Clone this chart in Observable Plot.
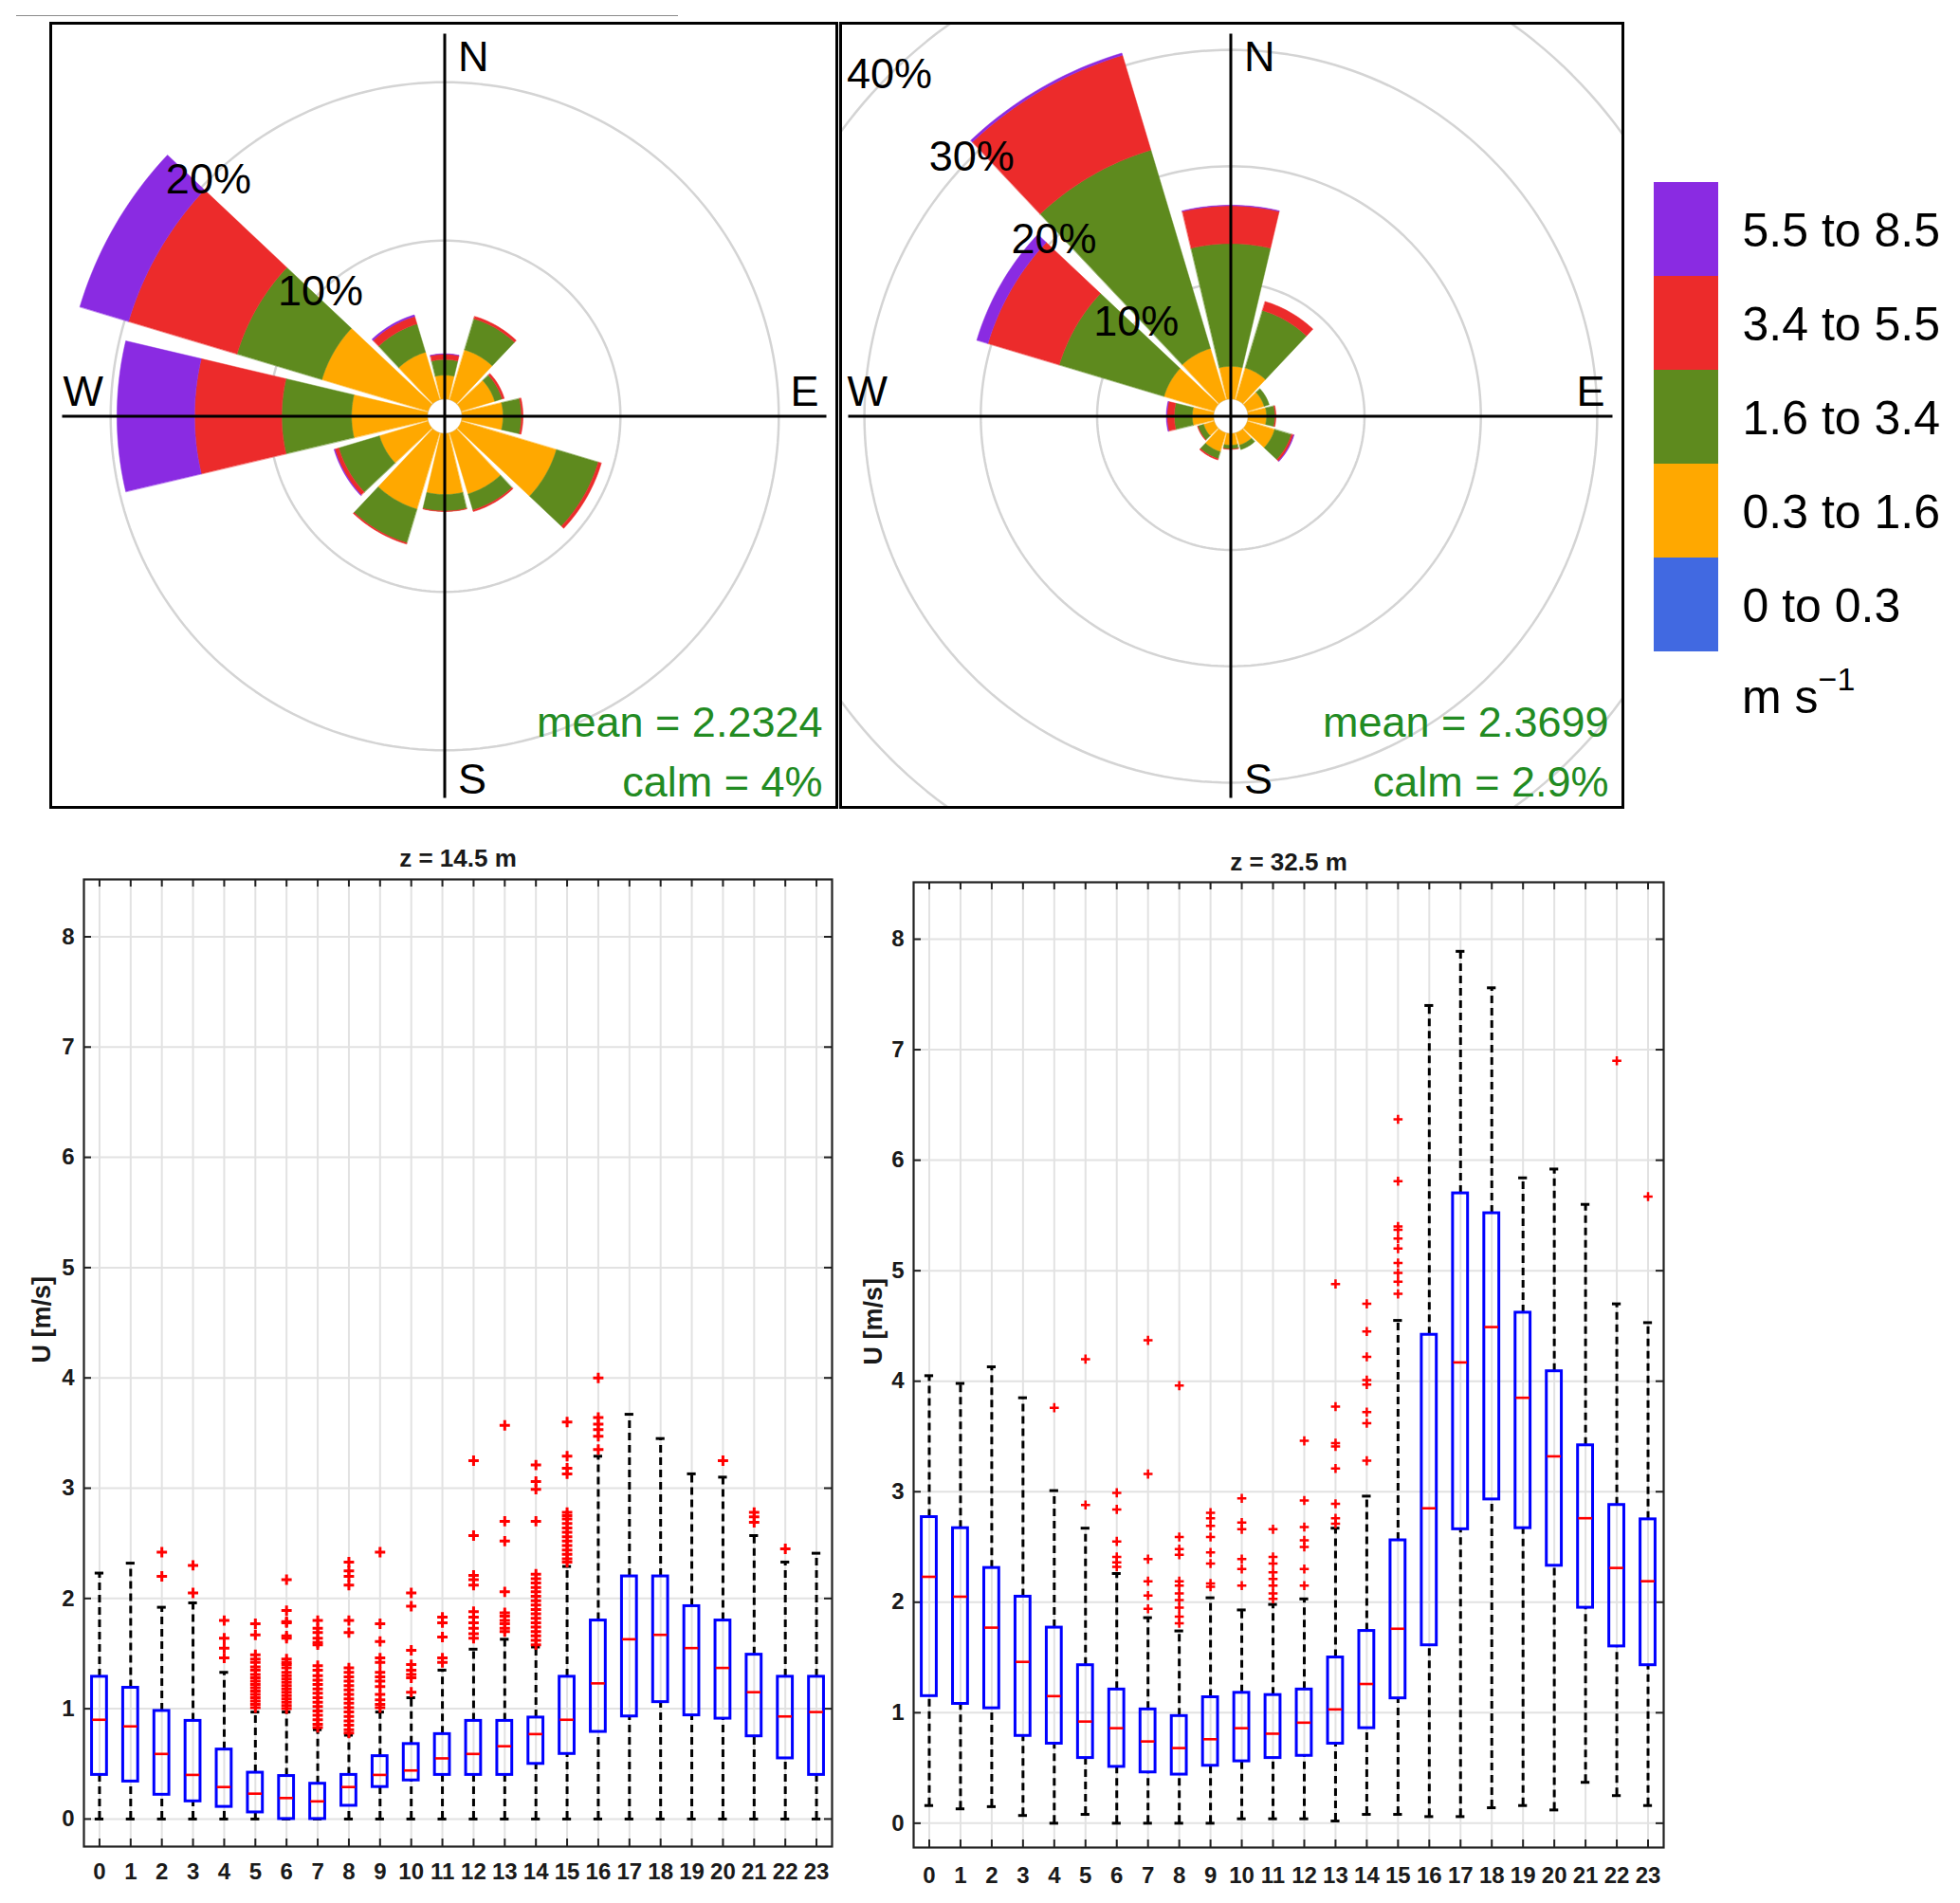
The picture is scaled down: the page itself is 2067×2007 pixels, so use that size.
<!DOCTYPE html>
<html><head><meta charset="utf-8">
<script src="https://cdn.jsdelivr.net/npm/d3@7"></script>
<script src="https://cdn.jsdelivr.net/npm/@observablehq/plot@0.6"></script>
<style>
body{margin:0;background:#fff;}
#page{position:relative;width:2067px;height:2007px;background:#fff;font-family:"Liberation Sans",Arial,Helvetica,sans-serif;overflow:hidden;}
.pan{position:absolute;}
.pan svg{overflow:visible;}
</style></head><body><div id="page"></div>
<script>
// ---------- wind-rose data (percent of time) ----------
const bins = ["0 to 0.3", "0.3 to 1.6", "1.6 to 3.4", "3.4 to 5.5", "5.5 to 8.5"];
const binColors = ["#4169e1", "#ffa800", "#5e8a1e", "#ec2b2b", "#8a2be2"];
const directions = [0, 30, 60, 90, 120, 150, 180, 210, 240, 270, 300, 330];
const ringsLeft = [10, 20];
const ringsRight = [10, 20, 30, 40];

const roseA_b0 = [0, 0, 0, 0, 0, 0, 0, 0, 0, 0, 0, 0];
const roseA_b1 = [1.50, 3.28, 2.20, 2.59, 6.27, 4.03, 3.85, 5.03, 3.21, 4.79, 7.00, 3.13];
const roseA_b2 = [0.99, 2.05, 0.49, 1.16, 2.76, 1.06, 1.04, 2.22, 2.68, 4.41, 5.60, 1.86];
const roseA_b3 = [0.34, 0.16, 0.14, 0.10, 0.20, 0.10, 0.03, 0.08, 0.26, 5.50, 7.15, 0.50];
const roseA_b4 = [0.02, 0, 0, 0, 0, 0, 0, 0, 0.05, 4.90, 3.21, 0.10];
const roseA_mean = "mean = 2.2324", roseA_calm = "calm = 4%";

const roseB_b0 = [0, 0, 0, 0, 0, 0, 0, 0, 0, 0, 0, 0];
const roseB_b1 = [2.80, 2.85, 1.50, 1.58, 2.45, 1.10, 1.00, 1.69, 0.95, 1.82, 4.50, 4.60];
const roseB_b2 = [10.55, 5.15, 0.45, 0.73, 1.49, 0.40, 0.33, 0.62, 0.50, 1.55, 9.40, 17.80];
const roseB_b3 = [3.25, 0.80, 0, 0.08, 0.19, 0, 0.03, 0.11, 0.05, 0.62, 6.40, 8.50];
const roseB_b4 = [0.05, 0, 0, 0, 0.05, 0, 0, 0, 0, 0.06, 1.00, 0.20];
const roseB_mean = "mean = 2.3699", roseB_calm = "calm = 2.9%";

// ---------- hourly box-plot data (m/s) ----------
const hours = [0,1,2,3,4,5,6,7,8,9,10,11,12,13,14,15,16,17,18,19,20,21,22,23];
const yTicks = [0,1,2,3,4,5,6,7,8];

const lowQ1  = [0.40,0.34,0.22,0.16,0.11,0.06,0.00,0.00,0.12,0.29,0.35,0.40,0.40,0.40,0.50,0.59,0.79,0.93,1.06,0.94,0.91,0.75,0.55,0.40];
const lowMed = [0.90,0.84,0.59,0.40,0.29,0.23,0.19,0.16,0.29,0.40,0.44,0.55,0.59,0.66,0.77,0.90,1.23,1.63,1.67,1.55,1.37,1.15,0.93,0.97];
const lowQ3  = [1.29,1.19,0.98,0.89,0.63,0.42,0.39,0.32,0.40,0.57,0.68,0.77,0.89,0.89,0.92,1.29,1.80,2.20,2.20,1.93,1.80,1.49,1.29,1.29];
const lowLo  = [0,0,0,0,0,0,0,0,0,0,0,0,0,0,0,0,0,0,0,0,0,0,0,0];
const lowHi  = [2.23,2.32,1.92,1.96,1.33,0.97,0.97,0.81,0.76,0.97,1.10,1.35,1.54,1.63,1.56,2.29,3.29,3.67,3.45,3.13,3.10,2.57,2.33,2.41];
const lowOut = [
  [], [], [2.42,2.20], [2.30,2.05], [1.80,1.64,1.55,1.46],
  [1.77,1.67,1.49,1.45,1.42,1.38,1.35,1.31,1.28,1.25,1.22,1.19,1.16,1.13,1.10,1.07,1.04,1.01],
  [2.17,1.89,1.79,1.78,1.66,1.64,1.45,1.42,1.40,1.37,1.33,1.30,1.27,1.24,1.21,1.18,1.15,1.12,1.09,1.06,1.03,1.00],
  [1.80,1.73,1.69,1.64,1.60,1.58,1.39,1.35,1.30,1.26,1.22,1.18,1.14,1.10,1.06,1.02,0.98,0.94,0.90,0.86,0.83],
  [2.33,2.25,2.20,2.12,1.80,1.69,1.37,1.33,1.29,1.25,1.21,1.17,1.13,1.09,1.05,1.01,0.97,0.93,0.89,0.85,0.81,0.78],
  [2.42,1.77,1.61,1.46,1.42,1.33,1.29,1.25,1.20,1.13,1.08,1.04,1.01],
  [2.05,1.93,1.53,1.40,1.35,1.31,1.28,1.15],
  [1.83,1.78,1.65,1.46,1.42],
  [3.25,2.57,2.21,2.17,2.12,1.88,1.83,1.78,1.73,1.68,1.64],
  [3.57,2.70,2.52,2.06,1.87,1.84,1.80,1.77,1.73,1.70],
  [3.21,3.06,2.99,2.70,2.22,2.18,2.14,2.10,2.06,2.02,1.98,1.94,1.90,1.86,1.82,1.78,1.74,1.70,1.66,1.62,1.58],
  [3.60,3.29,3.18,3.13,2.78,2.75,2.72,2.68,2.64,2.60,2.56,2.52,2.48,2.44,2.40,2.36,2.33],
  [4.00,3.64,3.58,3.53,3.47,3.35],
  [], [], [], [3.25], [2.78,2.74,2.69], [2.45], []
];

const highQ1  = [1.15,1.08,1.04,0.79,0.72,0.59,0.51,0.46,0.44,0.52,0.56,0.59,0.61,0.72,0.86,1.13,1.61,2.66,2.93,2.67,2.33,1.95,1.60,1.43];
const highMed = [2.23,2.05,1.77,1.46,1.15,0.92,0.86,0.74,0.68,0.76,0.86,0.81,0.91,1.03,1.26,1.76,2.85,4.17,4.49,3.85,3.32,2.76,2.31,2.19];
const highQ3  = [2.77,2.67,2.31,2.05,1.77,1.43,1.21,1.03,0.97,1.14,1.18,1.16,1.21,1.50,1.74,2.56,4.42,5.70,5.52,4.62,4.09,3.42,2.88,2.75];
const highLo  = [0.16,0.13,0.15,0.07,0,0.08,0,0,0,0,0.04,0.04,0.04,0.02,0.08,0.08,0.06,0.06,0.14,0.16,0.12,0.37,0.25,0.16];
const highHi  = [4.05,3.98,4.13,3.85,3.01,2.67,2.26,1.86,1.74,2.04,1.93,1.98,2.03,2.67,2.96,4.55,7.40,7.89,7.56,5.84,5.92,5.60,4.70,4.53];
const highOut = [
  [], [], [], [], [3.76], [4.20,2.88],
  [2.99,2.84,2.55,2.41,2.36,2.32],
  [4.37,3.16,2.39,2.19,2.06,1.94],
  [3.96,2.59,2.48,2.43,2.19,2.15,2.08,2.02,1.95,1.87,1.81],
  [2.81,2.76,2.69,2.59,2.45,2.35,2.17,2.14],
  [2.94,2.72,2.66,2.39,2.30,2.15],
  [2.66,2.41,2.35,2.27,2.21,2.15,2.08,2.03],
  [3.46,2.92,2.68,2.56,2.50,2.30,2.15],
  [4.88,3.77,3.44,3.41,3.21,2.89,2.76,2.71],
  [4.70,4.45,4.22,4.01,3.97,3.72,3.62,3.28],
  [6.37,5.81,5.40,5.37,5.29,5.20,5.07,4.98,4.90,4.79],
  [], [], [], [], [], [], [6.90], [5.67]
];

// ---------- helpers ----------
const FONT = '"Liberation Sans", Arial, Helvetica, sans-serif';
const page = document.getElementById("page");
function place(node, left, top) {
  const d = document.createElement("div");
  d.className = "pan";
  d.style.left = left + "px";
  d.style.top = top + "px";
  d.appendChild(node);
  page.appendChild(d);
}

const HALF = 13.3;   // half angular width of a paddle (deg)
const HOLE = 18.3;   // px radius of calm hole

function wedgeRows(binArrays, off) {
  const rows = [];
  directions.forEach((dir, i) => {
    let cum = 0;
    binArrays.forEach((arr, j) => {
      const v = arr[i];
      if (!(v > 0)) return;
      const r0 = off + cum, r1 = off + cum + v;
      cum += v;
      const id = dir + "-" + j;
      const a0 = (dir - HALF) * Math.PI / 180, a1 = (dir + HALF) * Math.PI / 180;
      const n = 20;
      for (let k = 0; k <= n; k++) { const a = a0 + (a1 - a0) * k / n; rows.push({id, bin: bins[j], x: r1 * Math.sin(a), y: r1 * Math.cos(a)}); }
      for (let k = n; k >= 0; k--) { const a = a0 + (a1 - a0) * k / n; rows.push({id, bin: bins[j], x: r0 * Math.sin(a), y: r0 * Math.cos(a)}); }
    });
  });
  return rows;
}
function circleRows(radii, off) {
  const rows = [];
  radii.forEach(r => {
    for (let k = 0; k < 240; k++) {
      const a = k / 240 * 2 * Math.PI;
      rows.push({ring: r, x: (off + r) * Math.sin(a), y: (off + r) * Math.cos(a)});
    }
  });
  return rows;
}

function rosePlot({binArrays, k, rings, width, height, cx, cy, wDx, mean, calm}) {
  const m = 3;
  const off = HOLE / k;
  const L = 403 / k;
  const lab = {fontSize: 45, fill: "black", lineAnchor: "middle", text: d => d};
  return Plot.plot({
    width, height, marginTop: m, marginBottom: m, marginLeft: m, marginRight: m,
    x: {domain: [-(cx - m) / k, (width - m - cx) / k], axis: null},
    y: {domain: [-(height - m - cy) / k, (cy - m) / k], axis: null},
    color: {domain: bins, range: binColors},
    style: {fontFamily: FONT, background: "transparent"},
    marks: [
      Plot.line(circleRows(rings, off), {x: "x", y: "y", z: "ring", stroke: "#d4d4d4", strokeWidth: 2.5, curve: "linear-closed", clip: true}),
      Plot.line(circleRows([0], off), {x: "x", y: "y", z: "ring", stroke: "#d0d0d0", strokeWidth: 1.2, curve: "linear-closed"}),
      Plot.line(wedgeRows(binArrays, off), {x: "x", y: "y", z: "id", fill: "bin", stroke: "bin", strokeWidth: 0.5, curve: "linear-closed"}),
      Plot.ruleX([0], {y1: -L, y2: L, stroke: "black", strokeWidth: 3}),
      Plot.ruleY([0], {x1: -L, x2: L, stroke: "black", strokeWidth: 3}),
      Plot.text(rings, {x: r => -(off + r) * Math.SQRT1_2, y: r => (off + r) * Math.SQRT1_2, ...lab, text: r => r + "%"}),
      Plot.text(["N"], {x: () => 0, frameAnchor: "top", dx: 14, dy: 36, textAnchor: "start", ...lab}),
      Plot.text(["S"], {x: () => 0, frameAnchor: "bottom", dx: 14, dy: -29, textAnchor: "start", ...lab}),
      Plot.text(["W"], {y: () => 0, frameAnchor: "left", dx: wDx, dy: -25, textAnchor: "start", ...lab}),
      Plot.text(["E"], {y: () => 0, frameAnchor: "right", dx: -19, dy: -25, textAnchor: "end", ...lab}),
      Plot.text([mean], {frameAnchor: "bottom-right", dx: -15, dy: -75, textAnchor: "end", lineAnchor: "bottom", text: d => d, fontSize: 45, fill: "#228b22"}),
      Plot.text([calm], {frameAnchor: "bottom-right", dx: -15, dy: -12, textAnchor: "end", lineAnchor: "bottom", text: d => d, fontSize: 45, fill: "#228b22"}),
      Plot.frame({stroke: "black", strokeWidth: 3})
    ]
  });
}

function boxPlot({title, q1, med, q3, lo, hi, out, width, height, ml, mr, mt, mb, ydom, xdy, ydx, titleDy, labelDx, plusR, plusW}) {
  const rows = hours.map((h, i) => ({h, q1: q1[i], med: med[i], q3: q3[i], lo: lo[i], hi: hi[i]}));
  const outs = hours.flatMap((h, i) => out[i].map(v => ({h, v})));
  const pxX = (width - ml - mr) / 24;
  const pxY = (height - mt - mb) / (ydom[1] - ydom[0]);
  const tx = 8 / pxX, ty = 8 / pxY;
  const frameC = "#222222";
  const txt = {fontSize: 24, fontWeight: "bold", fill: "#1a1a1a", lineAnchor: "middle"};
  return Plot.plot({
    width, height, marginLeft: ml, marginRight: mr, marginTop: mt, marginBottom: mb,
    x: {domain: [-0.5, 23.5], axis: null},
    y: {domain: ydom, axis: null},
    style: {fontFamily: FONT, background: "transparent"},
    marks: [
      Plot.ruleX(hours, {x: d => d, stroke: "#e2e2e2", strokeWidth: 2}),
      Plot.ruleY(yTicks, {y: d => d, stroke: "#e2e2e2", strokeWidth: 2}),
      Plot.ruleX(hours, {x: d => d, y1: ydom[1], y2: ydom[1] - ty, stroke: frameC, strokeWidth: 2}),
      Plot.ruleX(hours, {x: d => d, y1: ydom[0], y2: ydom[0] + ty, stroke: frameC, strokeWidth: 2}),
      Plot.ruleY(yTicks, {y: d => d, x1: -0.5, x2: -0.5 + tx, stroke: frameC, strokeWidth: 2}),
      Plot.ruleY(yTicks, {y: d => d, x1: 23.5, x2: 23.5 - tx, stroke: frameC, strokeWidth: 2}),
      Plot.frame({stroke: frameC, strokeWidth: 2.2}),
      Plot.ruleX(rows, {x: "h", y1: "q3", y2: "hi", stroke: "black", strokeWidth: 3, strokeDasharray: "8,5"}),
      Plot.ruleX(rows, {x: "h", y1: "lo", y2: "q1", stroke: "black", strokeWidth: 3, strokeDasharray: "8,5"}),
      Plot.ruleY(rows, {y: "hi", x1: d => d.h - 0.14, x2: d => d.h + 0.14, stroke: "black", strokeWidth: 3}),
      Plot.ruleY(rows, {y: "lo", x1: d => d.h - 0.14, x2: d => d.h + 0.14, stroke: "black", strokeWidth: 3}),
      Plot.rect(rows, {x1: d => d.h - 0.24, x2: d => d.h + 0.24, y1: "q1", y2: "q3", fill: "none", stroke: "#0000ff", strokeWidth: 3}),
      Plot.ruleY(rows, {y: "med", x1: d => d.h - 0.22, x2: d => d.h + 0.22, stroke: "#ff0000", strokeWidth: 2.6}),
      Plot.dot(outs, {x: "h", y: "v", symbol: "plus", r: plusR, stroke: "#ff0000", strokeWidth: plusW}),
      Plot.text(hours, {x: d => d, frameAnchor: "bottom", dy: xdy, text: d => String(d), ...txt}),
      Plot.text(yTicks, {y: d => d, frameAnchor: "left", dx: ydx, textAnchor: "end", text: d => String(d), ...txt}),
      Plot.text([title], {frameAnchor: "top", dy: titleDy, text: d => d, ...txt, fontSize: 26}),
      Plot.text(["U [m/s]"], {frameAnchor: "left", dx: labelDx, rotate: -90, text: d => d, ...txt, fontSize: 27})
    ]
  });
}

// ---------- top rule ----------
const rule = document.createElement("div");
rule.style.cssText = "position:absolute;left:17px;top:16px;width:698px;height:0;border-top:1.5px solid #8a8a8a;";
page.appendChild(rule);

// ---------- wind roses ----------
place(rosePlot({binArrays: [roseA_b0, roseA_b1, roseA_b2, roseA_b3, roseA_b4], k: 16.7, rings: ringsLeft,
  width: 835, height: 833, cx: 418.5, cy: 417.5, wDx: 13, mean: roseA_mean, calm: roseA_calm}), 50, 21);
place(rosePlot({binArrays: [roseB_b0, roseB_b1, roseB_b2, roseB_b3, roseB_b4], k: 12.27, rings: ringsRight,
  width: 831, height: 833, cx: 414.5, cy: 417.5, wDx: 7, mean: roseB_mean, calm: roseB_calm}), 883, 21);

// ---------- legend ----------
const legend = Plot.plot({
  width: 337, height: 520, margin: 0,
  x: {type: "band", domain: ["sw"], range: [14, 82], padding: 0, axis: null},
  y: {type: "band", domain: bins.slice().reverse(), range: [11, 507], padding: 0, axis: null},
  color: {domain: bins, range: binColors},
  style: {fontFamily: FONT, background: "transparent"},
  marks: [
    Plot.cell(bins, {x: () => "sw", y: d => d, fill: d => d, inset: 0}),
    Plot.text(bins, {x: () => "sw", y: d => d, text: d => d, dx: 59, dy: 2, textAnchor: "start", fontSize: 50, fill: "black"})
  ]
});
place(legend, 1730, 180);
const unit = document.createElement("div");
unit.style.cssText = "position:absolute;left:1837px;top:710px;font-size:50px;line-height:1;color:#000;font-family:" + FONT.replace(/"/g, "'") + ";white-space:nowrap;";
unit.innerHTML = 'm s<span style="font-size:34px;position:relative;top:-24px;">\u22121</span>';
page.appendChild(unit);

// ---------- box plots ----------
place(boxPlot({title: "z = 14.5 m", q1: lowQ1, med: lowMed, q3: lowQ3, lo: lowLo, hi: lowHi, out: lowOut,
  width: 891, height: 1110, ml: 88, mr: 14, mt: 47, mb: 43, ydom: [-0.25, 8.52],
  xdy: 27, ydx: -10, titleDy: -22, labelDx: -44, plusR: 3.6, plusW: 3}), 0, 880);
place(boxPlot({title: "z = 32.5 m", q1: highQ1, med: highMed, q3: highQ3, lo: highLo, hi: highHi, out: highOut,
  width: 880, height: 1110, ml: 73, mr: 16, mt: 50, mb: 42, ydom: [-0.22, 8.515],
  xdy: 30, ydx: -10, titleDy: -21, labelDx: -42, plusR: 3.2, plusW: 2.5}), 890, 880);
</script>
</body></html>
